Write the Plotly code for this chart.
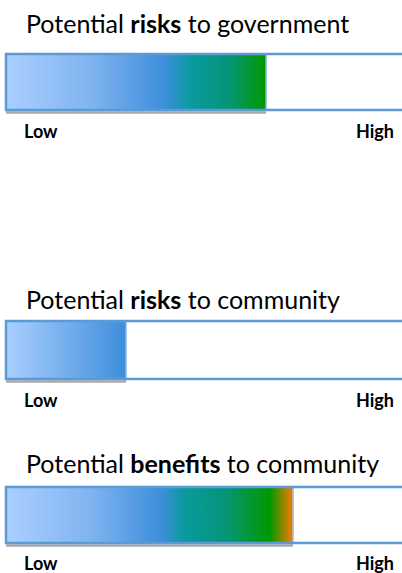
import plotly.graph_objects as go

# ---- data ----
titles = [
    "Potential <b>risks</b> to government",
    "Potential <b>risks</b> to community",
    "Potential <b>benefits</b> to community",
]
levels = [6.67, 3.08, 7.36]          # position on Low(0) .. High(10) scale
scale_min, scale_max = 0, 10
scale_labels = ["Low", "High"]

# ---- layout / style (pixel positions of each panel, not data) ----
W, H = 402, 573
px_per_unit = 39.0
x0_px = 6
bar_top = [54, 321, 487]
bar_bot = [110, 379, 543]
title_y = [23, 299, 463]
label_y = [131, 400, 563]
gradients = [
    [[0, "#abcfff"], [0.33, "#7fb3f0"], [0.61, "#3d8edb"], [0.71, "#0a9a9e"], [0.85, "#05957a"], [1, "#009900"]],
    [[0, "#abcfff"], [1, "#3d8edb"]],
    [[0, "#abcfff"], [0.3, "#7fb3f0"], [0.54, "#3d8edb"], [0.62, "#0a9a9e"], [0.76, "#05957a"], [0.92, "#009900"], [1, "#ff7a00"]],
]
border = "#5b9bd5"
font = "Lato"

xr = [-x0_px / px_per_unit, (W - x0_px) / px_per_unit]

fig = go.Figure()
ann = []
for i, (t, v) in enumerate(zip(titles, levels)):
    top, bot = bar_top[i], bar_bot[i]
    # shadow under filled part
    fig.add_trace(go.Scatter(x=[scale_min, v], y=[bot + 2.5, bot + 2.5], mode="lines",
                             line=dict(color="#a9a9a9", width=2.5), hoverinfo="skip", showlegend=False))
    # gradient fill
    fig.add_trace(go.Scatter(x=[scale_min, v, v, scale_min, scale_min], y=[top, top, bot, bot, top],
                             mode="lines", line=dict(width=0), fill="toself",
                             fillgradient=dict(type="horizontal", colorscale=gradients[i], start=scale_min, stop=v),
                             hoverinfo="skip", showlegend=False))
    # divider at end of fill
    fig.add_trace(go.Scatter(x=[v, v], y=[top, bot], mode="lines",
                             line=dict(color="#9dbde6", width=1.5), hoverinfo="skip", showlegend=False))
    # outline (open to the right, runs off the edge)
    fig.add_trace(go.Scatter(x=[xr[1] + 1, scale_min, scale_min, xr[1] + 1], y=[top, top, bot, bot],
                             mode="lines", line=dict(color=border, width=2.5),
                             hoverinfo="skip", showlegend=False))
    ann.append(dict(x=0.46, y=title_y[i], xref="x", yref="y", text=t, showarrow=False,
                    xanchor="left", yanchor="middle", font=dict(family=font, size=25, color="#000000")))
    ann.append(dict(x=0.40, y=label_y[i], xref="x", yref="y", text="<b>" + scale_labels[0] + "</b>",
                    showarrow=False, xanchor="left", yanchor="middle",
                    font=dict(family=font, size=18, color="#000000")))
    ann.append(dict(x=scale_max, y=label_y[i], xref="x", yref="y", text="<b>" + scale_labels[1] + "</b>",
                    showarrow=False, xanchor="right", yanchor="middle",
                    font=dict(family=font, size=18, color="#000000")))

fig.update_layout(
    width=W, height=H, margin=dict(l=0, r=0, t=0, b=0),
    paper_bgcolor="white", plot_bgcolor="white",
    xaxis=dict(range=xr, visible=False, fixedrange=True),
    yaxis=dict(range=[H, 0], visible=False, fixedrange=True),
    annotations=ann, showlegend=False,
)
fig.write_html("out.html", config={"displayModeBar": False})
